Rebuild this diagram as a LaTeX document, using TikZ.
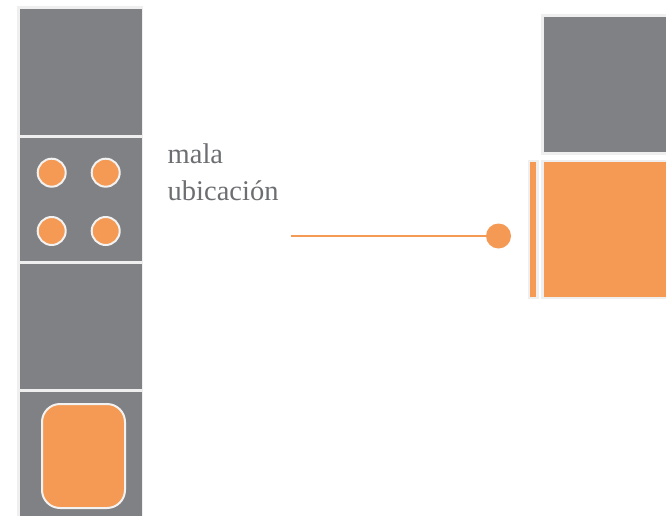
\documentclass[tikz,border=0pt]{standalone}
\usepackage{fontspec}
\setmainfont{Liberation Serif}
\definecolor{cellgray}{HTML}{808184}
\definecolor{orng}{HTML}{F49A54}
\definecolor{rim}{HTML}{EFEFEF}
\definecolor{txtgray}{HTML}{6D6E71}
\begin{document}
\begin{tikzpicture}[x=1pt,y=-1pt,
  cell/.style={fill=cellgray,draw=none},
  rimbox/.style={fill=rim,draw=none},
  dot/.style={circle,fill=orng,draw=white!95!black,line width=2pt,minimum size=28pt,inner sep=0pt},
  label/.style={font=\fontsize{28.5}{37}\selectfont,text=txtgray,align=left,anchor=north west,inner sep=0pt}]
\useasboundingbox (0,0) rectangle (666,516);
% left column
\fill[rimbox] (17,6) rectangle (143,516);
\fill[cell] (19.5,9) rectangle (141.5,135);
\fill[cell] (19.5,137.5) rectangle (141.5,260.5);
\fill[cell] (19.5,263.5) rectangle (141.5,388.5);
\fill[cell] (19.5,391.5) rectangle (141.5,516);
\node[dot] (c1) at (51.7,172.7) {};
\node[dot] (c2) at (105.7,172.7) {};
\node[dot] (c3) at (51.7,231) {};
\node[dot] (c4) at (105.7,231) {};
\draw[fill=orng,draw=white!95!black,line width=2pt,rounded corners=18pt] (42,404) rectangle (125,508);
% text
\node[label] (txt) at (167.5,143.5) {mala\\ubicación};
% connector
\coordinate (lstart) at (291,236);
\node[circle,fill=orng,minimum size=25pt,inner sep=0pt] (pin) at (498.5,236) {};
\draw[orng,line width=2.5pt] (lstart) -- (pin.center);
% right side
\fill[rimbox] (541,14) rectangle (666,154.5);
\fill[cell] (543.7,16.7) rectangle (666,151.7);
\fill[rimbox] (541,160) rectangle (666,299);
\fill[orng] (543.7,162.3) rectangle (666,296.7);
\fill[rimbox] (528,160) rectangle (538.5,299);
\fill[orng] (530,162.3) rectangle (536,296.7);
\end{tikzpicture}
\end{document}
